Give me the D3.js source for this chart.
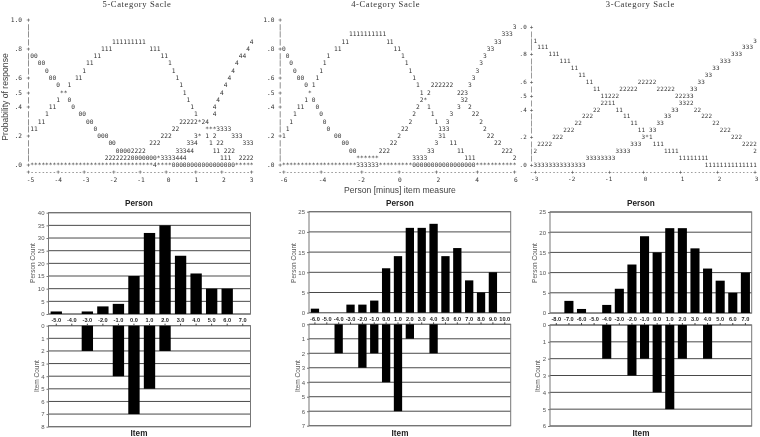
<!DOCTYPE html>
<html>
<head>
<meta charset="utf-8">
<script src="https://cdn.jsdelivr.net/npm/d3@7"></script>
<style>
html,body{margin:0;padding:0;background:#fff}
svg{display:block}
</style>
</head>
<body>
<div id="chart"></div>
<script>
// Probability curves: the reference plots are character plots, one string per row (p = 1.0 down to 0.0 by .05)
const rowProbabilities = d3.range(20, -1, -1).map(d => d / 20);
const rows5 = [
"+",
"|",
"|",
"|                      111111111                            4",
"+                   111          111                       4",
"|00               11                11                   44",
"|  00           11                    1                 4",
"|    0         1                       1               4",
"+     00     11                         1             4",
"|       0  1                             1           4",
"+        **                               1         4",
"|       1  0                               1       4",
"+     11    0                               1     4",
"|    1        00                             1    4",
"|  11           00                       22222*24",
"|11               0                    22       ***3333",
"+                  000              222      3* 1 2    333",
"|                     00         222       334   1 22     333",
"|                       00002222        33344     11 222",
"|                    22222220000000*3333444         111  2222",
"+*********************************4****00000000000000000*****"
];
const rows4 = [
"+",
"|                                                              3",
"|                  1111111111                               333",
"|                11          11                           33",
"+0             11              11                       33",
"| 0          1                   1                     3",
"|  0        1                     1                   3",
"|   0      1                       1                 3",
"+    00   1                         1               3",
"|      0 1                           1   222222    3",
"+       *                             1 2       223",
"|      1 0                            2*         32",
"+    11   0                          2  1       3  2",
"|   1      0                        2    1    3     22",
"|  1        0                      2      1  3        2",
"| 1          0                   22        133         2",
"+1             00               2          31           22",
"|                00           22          3   11          22",
"|                  00      222          33      11          222",
"|                    ******         3333          111          2",
"+********************333333*********00000000000000000***********"
];
const rows3 = [
"+",
"|",
"|1                                                          3",
"| 111                                                    333",
"+    111                                              333",
"|       111                                        333",
"|          11                                    33",
"|            11                                33",
"+              11            22222           33",
"|                11     22222     22222    33",
"+                  11222               22233",
"|                  2211                 3322",
"+                22    11             33    22",
"|             222        11         33        222",
"|           22             11     33             22",
"|        222                 11 33                 222",
"+     222                     3*1                     222",
"| 2222                     333   111                     2222",
"|2                     3333         1111                    2",
"|              33333333                 11111111",
"+33333333333333                                11111111111111"
];
const pTickLabels5 = ["1.0", ".8", ".6", ".5", ".4", ".2", ".0"];
const pTickLabels4 = ["1.0", ".8", ".6", ".5", ".4", ".2", ".0"];
const pTickLabels3 = [".0", ".8", ".6", ".5", ".4", ".2", ".0"];
const pTickValues = [1, 0.8, 0.6, 0.5, 0.4, 0.2, 0];
const measureTicks5 = [-5, -4, -3, -2, -1, 0, 1, 2, 3];
const measureTicks4 = [-6, -4, -2, 0, 2, 4, 6];
const measureTicks3 = [-3, -2, -1, 0, 1, 2, 3];

// Person / item histograms
const cats5 = ["-5.0","-4.0","-3.0","-2.0","-1.0","0.0","1.0","2.0","3.0","4.0","5.0","6.0","7.0"];
const person5 = [1,0,1,3,4,15,32,35,23,16,10,10,0];
const item5 = [0,0,2,0,4,7,5,2,0,0,0,0,0];
const cats4 = ["-6.0","-5.0","-4.0","-3.0","-2.0","-1.0","0.0","1.0","2.0","3.0","4.0","5.0","6.0","7.0","8.0","9.0","10.0"];
const person4 = [1,0,0,2,2,3,11,14,21,21,22,14,16,8,5,10,0];
const item4 = [0,0,2,0,3,2,4,6,1,0,2,0,0,0,0,0,0];
const cats3 = ["-8.0","-7.0","-6.0","-5.0","-4.0","-3.0","-2.0","-1.0","0.0","1.0","2.0","3.0","4.0","5.0","6.0","7.0"];
const person3 = [0,3,1,0,2,6,12,19,15,21,21,16,11,8,5,10];
const item3 = [0,0,0,0,2,0,3,2,4,5,2,0,2,0,0,0];

const W = 760, H = 437;
const SANS = '"Liberation Sans", Arial, sans-serif';
const SERIF = '"Liberation Serif", "Times New Roman", serif';
const MONO = '"DejaVu Sans Mono", monospace';
const INK = "#333";
const CHAR_W = 3.73;

const root = d3.select("#chart").append("svg").attr("width", W).attr("height", H).attr("viewBox", `0 0 ${W} ${H}`);
root.append("rect").attr("width", W).attr("height", H).attr("fill", "#fff");
root.append("defs").append("filter").attr("id", "soft")
  .attr("x", 0).attr("y", 0).attr("width", W).attr("height", H).attr("filterUnits", "userSpaceOnUse")
  .append("feGaussianBlur").attr("stdDeviation", 0.3);
const svg = root.append("g").attr("filter", "url(#soft)");

function monoText(sel, size) {
  const fs = size || 6.2;
  sel.attr("font-family", MONO).attr("font-size", fs).attr("fill", INK)
     .attr("letter-spacing", CHAR_W - fs * 0.602)
     .style("white-space", "pre");
}

function drawPlot(cfg) {
  const g = svg.append("g").attr("class", "plot");
  const y = d3.scaleLinear().domain([0, 1]).range([cfg.y0, cfg.y1]);
  const x = d3.scaleLinear().domain(d3.extent(cfg.ticks)).range(cfg.xRange);
  const col = d3.scaleLinear().domain([0, 1]).range([cfg.colLeft, cfg.colLeft + CHAR_W]);
  const axisY = cfg.y0 + (cfg.y0 - cfg.y1) / 20;

  g.append("text").attr("x", cfg.titleX).attr("y", 7.3).attr("text-anchor", "middle")
    .attr("font-family", SERIF).attr("font-size", 8.6).attr("letter-spacing", 0.6).attr("fill", "#333").text(cfg.title);

  g.selectAll("text.row").data(cfg.rows).join("text").attr("class", "row")
    .attr("x", col(0)).attr("y", (d, i) => y(rowProbabilities[i]))
    .attr("dominant-baseline", "central").text(d => d).call(monoText, cfg.fs);

  // dashed base line of the character plot, with + at every tick
  const n = d3.max(cfg.rows, d => d.length);
  const marks = new Set(cfg.ticks.map(t => Math.round(col.invert(x(t) - CHAR_W / 2))));
  const base = d3.range(n).map(i => marks.has(i) ? "+" : "-").join("");
  g.append("text").attr("class", "base").attr("x", col(0)).attr("y", axisY)
    .attr("dominant-baseline", "central").text(base).call(monoText, cfg.fs);

  // probability labels
  g.selectAll("text.pl").data(pTickValues).join("text").attr("class", "pl")
    .attr("x", cfg.labelRight).attr("y", d => y(d)).attr("text-anchor", "end")
    .attr("dominant-baseline", "central").text((d, i) => cfg.pLabels[i]).call(monoText, cfg.fs);

  // measure axis
  const ax = g.append("g").attr("transform", `translate(0,${axisY + 3.4})`)
    .call(d3.axisBottom(x).tickValues(cfg.ticks).tickSize(0).tickFormat(d => String(d)));
  ax.select(".domain").remove();
  ax.selectAll("text").call(monoText, cfg.fs).attr("dy", null).attr("y", 3.7).attr("dominant-baseline", "central");
}

drawPlot({ title: "5-Category Sacle", titleX: 137, rows: rows5, ticks: measureTicks5, pLabels: pTickLabels5,
  xRange: [30, 251], colLeft: 26.5, y0: 164.7, y1: 19.3, labelRight: 22 });
drawPlot({ title: "4-Category Sacle", titleX: 385.7, rows: rows4, ticks: measureTicks4, pLabels: pTickLabels4,
  xRange: [283.3, 515.3], colLeft: 278.2, y0: 164.7, y1: 19.3, labelRight: 274.5 });
drawPlot({ title: "3-Category Sacle", titleX: 640.3, rows: rows3, ticks: measureTicks3, pLabels: pTickLabels3,
  xRange: [534.3, 756], colLeft: 529.8, y0: 164.7, y1: 26.7, labelRight: 527, fs: 5.9 });

svg.append("text").attr("transform", "translate(8,97) rotate(-90)").attr("text-anchor", "middle")
  .attr("font-family", SANS).attr("font-size", 8.6).attr("fill", "#444").text("Probability of response");
svg.append("text").attr("x", 400).attr("y", 193).attr("text-anchor", "middle")
  .attr("font-family", SANS).attr("font-size", 8.6).attr("fill", "#444").text("Person [minus] item measure");

function drawHist(cfg) {
  const g = svg.append("g").attr("class", "hist");
  const w = cfg.right - cfg.left;
  const x = d3.scaleBand().domain(cfg.cats).range([cfg.left, cfg.right]).paddingInner(cfg.pad).paddingOuter(cfg.pad / 2);
  const yP = d3.scaleLinear().domain([0, cfg.pMax]).range([cfg.pBase, cfg.pTop]);
  const yI = d3.scaleLinear().domain([0, cfg.iMax]).range([cfg.iBase, cfg.iBottom]);

  const grid = (scale, ticks) => g.append("g").selectAll("line").data(ticks).join("line")
    .attr("x1", cfg.left).attr("x2", cfg.right).attr("y1", d => scale(d)).attr("y2", d => scale(d))
    .attr("stroke", "#4a4a4a").attr("stroke-width", 1);
  const pTicks = d3.range(0, cfg.pMax + 1, 5);
  const iTicks = d3.range(0, cfg.iMax + 1, 1);
  grid(yP, pTicks);
  grid(yI, iTicks);

  // frames
  [[cfg.pTop, cfg.pBase], [cfg.iBase, cfg.iBottom]].forEach(([t, b]) =>
    g.append("rect").attr("x", cfg.left).attr("y", t).attr("width", w).attr("height", b - t)
      .attr("fill", "none").attr("stroke", "#777").attr("stroke-width", 1));

  // bars
  g.append("g").selectAll("rect").data(cfg.person).join("rect")
    .attr("x", (d, i) => x(cfg.cats[i])).attr("width", x.bandwidth())
    .attr("y", d => yP(d)).attr("height", d => yP(0) - yP(d)).attr("fill", "#000");
  g.append("g").selectAll("rect").data(cfg.item).join("rect")
    .attr("x", (d, i) => x(cfg.cats[i])).attr("width", x.bandwidth())
    .attr("y", yI(0)).attr("height", d => yI(d) - yI(0)).attr("fill", "#000");

  // axes
  const axP = g.append("g").attr("transform", `translate(${cfg.left},0)`)
    .call(d3.axisLeft(yP).tickValues(pTicks).tickFormat(d3.format("d")).tickSize(2).tickPadding(2));
  const axI = g.append("g").attr("transform", `translate(${cfg.left},0)`)
    .call(d3.axisLeft(yI).tickValues(iTicks).tickFormat(d3.format("d")).tickSize(2).tickPadding(2));
  [axP, axI].forEach(a => {
    a.select(".domain").remove();
    a.selectAll("text").attr("font-family", SANS).attr("font-size", 6).attr("fill", "#555");
    a.selectAll("line").attr("stroke", "#777");
  });
  const axX = g.append("g").attr("transform", `translate(0,${cfg.iBase})`)
    .call(d3.axisTop(x).tickSize(2).tickPadding(0));
  axX.select(".domain").remove();
  axX.selectAll("line").attr("stroke", "#444");
  axX.selectAll("text").attr("font-family", SANS).attr("font-size", 5.6).attr("font-weight", "bold")
    .attr("fill", "#222").attr("y", cfg.pBase + 8 - cfg.iBase).attr("dy", 0);

  // labels
  const bold = (t, yy) => g.append("text").attr("x", cfg.titleX).attr("y", yy).attr("text-anchor", "middle")
    .attr("font-family", SANS).attr("font-size", 8.2).attr("font-weight", "bold").attr("fill", "#222").text(t);
  bold("Person", 206);
  bold("Item", 436);
  const rot = (t, xx, yy) => g.append("text").attr("transform", `translate(${xx},${yy}) rotate(-90)`)
    .attr("text-anchor", "middle").attr("font-family", SANS).attr("font-size", 6.5).attr("fill", "#555").text(t);
  rot("Person Count", cfg.pLabelX, 263);
  rot("Item Count", cfg.iLabelX, 376);
}

drawHist({ cats: cats5, person: person5, item: item5, left: 48.5, right: 250.5, pad: 0.27,
  pMax: 40, iMax: 8, pTop: 212.7, pBase: 314, iBase: 325.7, iBottom: 426.7, titleX: 139, pLabelX: 34.5, iLabelX: 38.5 });
drawHist({ cats: cats4, person: person4, item: item4, left: 309, right: 510.7, pad: 0.3,
  pMax: 25, iMax: 7, pTop: 211.7, pBase: 312.7, iBase: 324.3, iBottom: 425.7, titleX: 400, pLabelX: 295.5, iLabelX: 299.5 });
drawHist({ cats: cats3, person: person3, item: item3, left: 550, right: 751.7, pad: 0.28,
  pMax: 25, iMax: 6, pTop: 212, pBase: 313, iBase: 325, iBottom: 426, titleX: 641, pLabelX: 536.5, iLabelX: 540 });
</script>
</body>
</html>
